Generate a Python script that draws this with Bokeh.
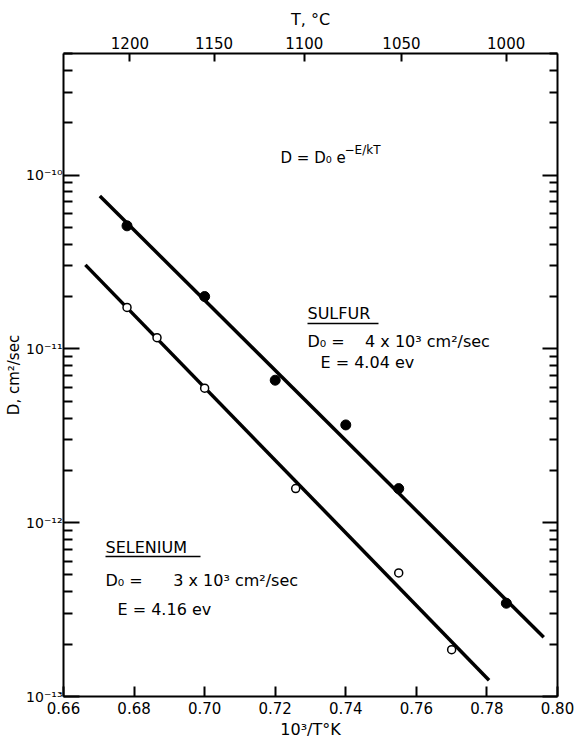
import numpy as np
from bokeh.plotting import figure
from bokeh.models import LogAxis, LinearAxis, FixedTicker, Range1d
from bokeh.core.properties import value
from bokeh.embed import file_html
from bokeh.resources import INLINE

# ---------------- data ----------------
sulfur_x = [0.678, 0.700, 0.720, 0.740, 0.755, 0.7855]
sulfur_d = [5.1e-11, 2.0e-11, 6.6e-12, 3.65e-12, 1.57e-12, 3.44e-13]
selen_x = [0.678, 0.6865, 0.700, 0.7258, 0.755, 0.770]
selen_d = [1.73e-11, 1.16e-11, 5.94e-12, 1.57e-12, 5.14e-13, 1.86e-13]
sulfur_fit_x = [0.6703, 0.7961]
sulfur_fit_d = [7.57e-11, 2.19e-13]
selen_fit_x = [0.6662, 0.7806]
selen_fit_d = [3.04e-11, 1.24e-13]

x_ticks = [0.66, 0.68, 0.70, 0.72, 0.74, 0.76, 0.78, 0.80]
x_tick_labels = ["0.66", "0.68", "0.70", "0.72", "0.74", "0.76", "0.78", "0.80"]
temp_c = [1200, 1150, 1100, 1050, 1000]
decades = [1e-13, 1e-12, 1e-11, 1e-10]
decade_labels = ["10\u207b\u00b9\u00b3", "10\u207b\u00b9\u00b2", "10\u207b\u00b9\u00b9", "10\u207b\u00b9\u2070"]

# ---------------- layout ----------------
W, H = 578, 744
BL, BR, BT, BB = 63, 21, 53, 48
X0, X1 = 0.66, 0.80
Y0, Y1 = 1e-13, 5e-10
FW, FH = W - BL - BR, H - BT - BB

def dx(px):
    return X0 + (px - BL) / FW * (X1 - X0)

def dy(py):
    return 10 ** (np.log10(Y0) + (H - BB - py) / FH * np.log10(Y1 / Y0))

FONT = "DejaVu Sans"
NB = "\u00a0"

p = figure(width=W, height=H, x_range=Range1d(X0, X1), y_range=Range1d(Y0, Y1),
           y_axis_type="log", output_backend="svg", toolbar_location=None,
           min_border_left=BL, min_border_right=BR, min_border_top=BT, min_border_bottom=BB)
p.grid.visible = False
p.outline_line_color = None
p.background_fill_color = "white"
p.border_fill_color = "white"

minor = [k * 10.0 ** n for n in range(-13, -9) for k in range(2, 10) if k * 10.0 ** n <= Y1]

def style_axis(ax):
    ax.axis_line_color = "black"
    ax.axis_line_width = 2
    ax.major_tick_line_color = "black"
    ax.major_tick_line_width = 2
    ax.minor_tick_line_color = "black"
    ax.minor_tick_line_width = 2
    ax.major_tick_out = 0
    ax.minor_tick_out = 0
    ax.major_label_text_font = FONT
    ax.major_label_text_font_size = "15px"
    ax.major_label_text_color = "black"
    ax.axis_label_text_font = FONT
    ax.axis_label_text_font_size = "15px"
    ax.axis_label_text_font_style = "normal"
    ax.axis_label_text_color = "black"

# bottom axis
xb = p.xaxis[0]
xb.ticker = FixedTicker(ticks=x_ticks)
xb.major_label_overrides = {t: l for t, l in zip(x_ticks, x_tick_labels)}
style_axis(xb)
xb.major_tick_in = 10
xb.minor_tick_in = 0
xb.major_label_standoff = 5
xb.axis_label = "10\u00b3/T\u00b0K"
xb.axis_label_text_font_size = "16px"
xb.axis_label_standoff = 3

# left axis
yl = p.yaxis[0]
yl.ticker = FixedTicker(ticks=decades, minor_ticks=minor)
yl.major_label_overrides = {t: l for t, l in zip(decades, decade_labels)}
style_axis(yl)
yl.major_label_text_font_size = "14px"
yl.major_tick_in = 16
yl.minor_tick_in = 9
yl.major_label_standoff = 1
yl.axis_label = "D, cm\u00b2/sec"
yl.axis_label_standoff = 0

# right axis (ticks only)
yr = LogAxis(ticker=FixedTicker(ticks=decades, minor_ticks=minor),
             major_label_overrides={t: " " for t in decades})
style_axis(yr)
yr.major_tick_in = 15
yr.minor_tick_in = 8
yr.major_label_text_font_size = "2px"
yr.major_label_standoff = 0
p.add_layout(yr, "right")

# top axis: temperature in deg C at 10^3/T(K)
top_pos = [1000.0 / (t + 273.15) for t in temp_c]
xt = LinearAxis(ticker=FixedTicker(ticks=top_pos),
                major_label_overrides={tp: str(t) for tp, t in zip(top_pos, temp_c)})
style_axis(xt)
xt.major_tick_in = 8
xt.minor_tick_in = 0
xt.major_label_standoff = 5
xt.axis_label = "T, \u00b0C"
xt.axis_label_text_font_size = "16px"
xt.axis_label_standoff = 5
p.add_layout(xt, "above")

# fitted lines
p.line(sulfur_fit_x, sulfur_fit_d, line_color="black", line_width=3.5)
p.line(selen_fit_x, selen_fit_d, line_color="black", line_width=3.5)

# points
p.scatter(sulfur_x, sulfur_d, marker="circle", size=10, fill_color="black", line_color="black")
p.scatter(selen_x, selen_d, marker="circle", size=8, fill_color="white", line_color="black", line_width=1.5)

# annotations (px, py = left end of the text baseline, in pixels)
def lab(px, py, text, size="16px"):
    p.text(x=[dx(px)], y=[dy(py - 5)], text=[text], text_font=value(FONT), text_font_size=value(size),
           text_color="black", text_baseline="alphabetic", text_align="left")

lab(280, 162, "D = D\u2080 e", "15px")
lab(344, 154, "\u2212E/kT", "12px")

lab(307, 318, "SULFUR")
lab(307, 346, "D\u2080 =" + NB * 4 + "4 x 10\u00b3 cm\u00b2/sec")
lab(320, 367, "E = 4.04 ev")

lab(105, 552, "SELENIUM")
lab(105, 585, "D\u2080 =" + NB * 6 + "3 x 10\u00b3 cm\u00b2/sec")
lab(117, 614, "E = 4.16 ev")

# underlines
p.segment(x0=[dx(307), dx(105)], y0=[dy(323), dy(556)], x1=[dx(378), dx(200)], y1=[dy(323), dy(556)],
          line_color="black", line_width=1.5)

open("out.html", "w").write(file_html(p, INLINE))
